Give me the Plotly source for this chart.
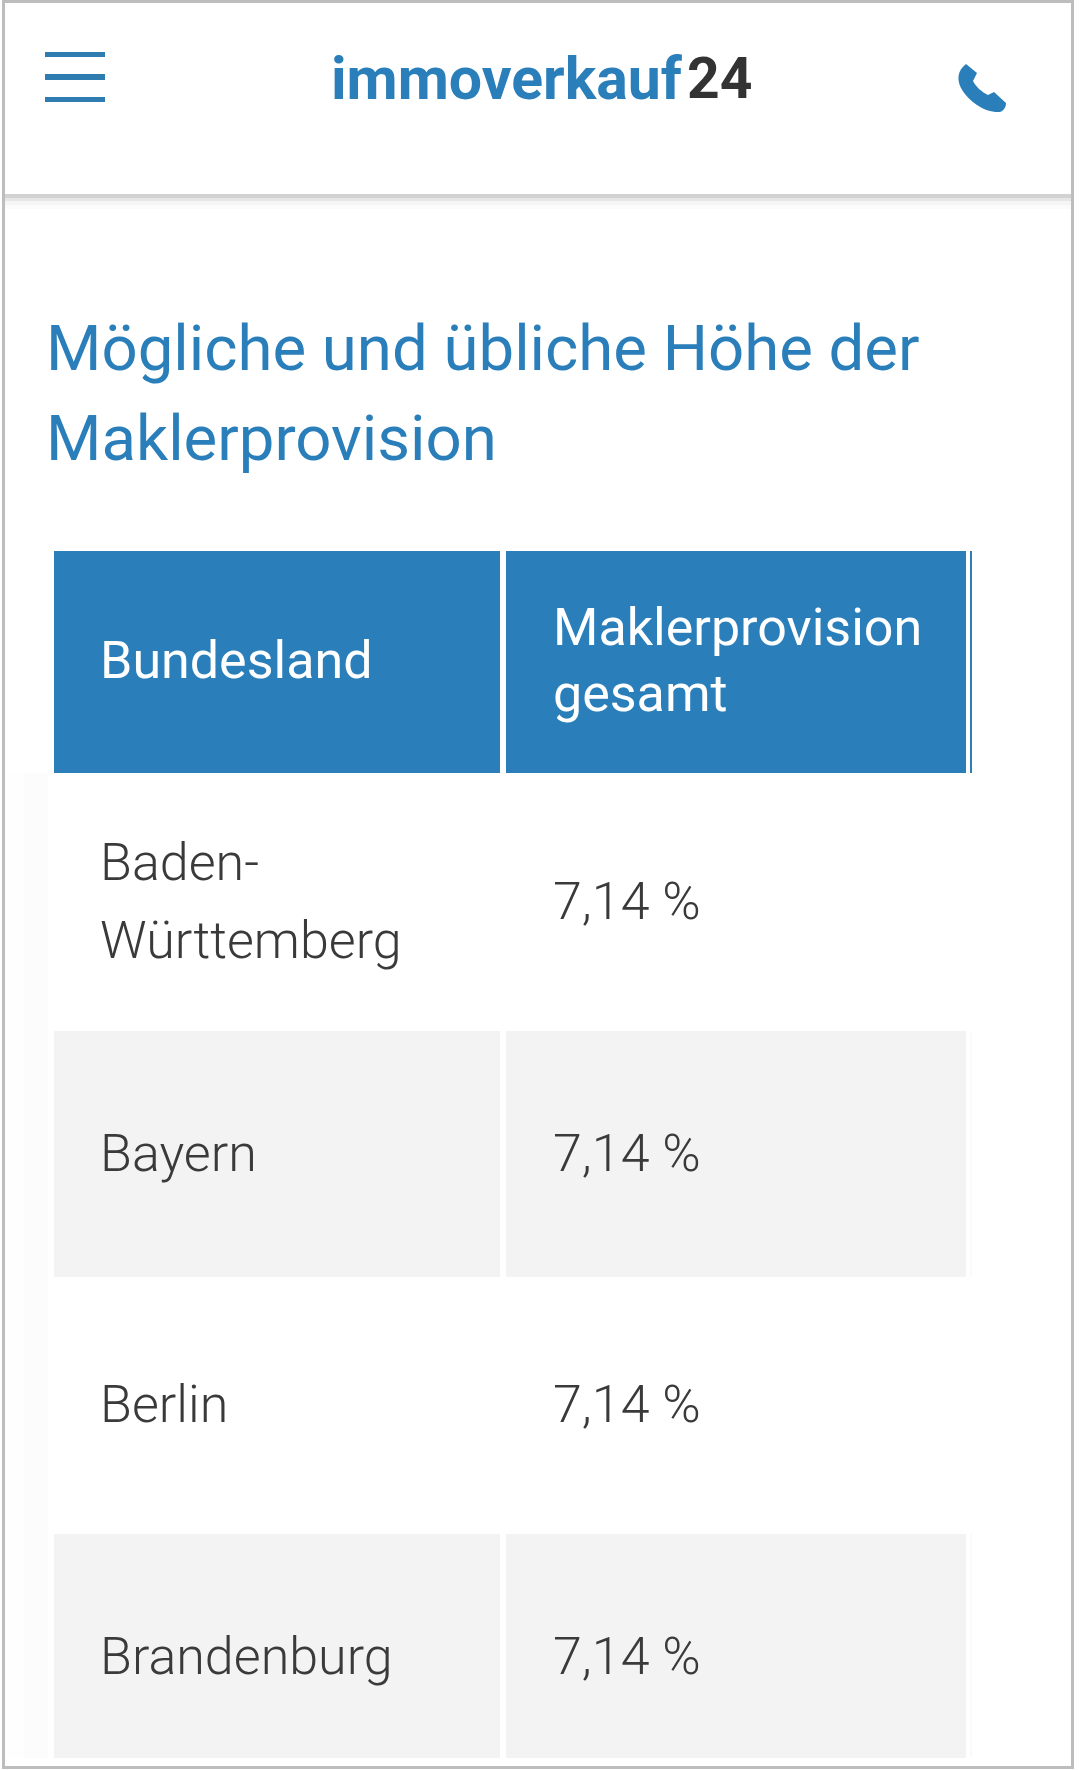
import plotly.graph_objects as go

# table content
spalten = [["Bundesland"], ["Maklerprovision", "gesamt"]]
bundeslaender = [["Baden-", "Württemberg"], ["Bayern"], ["Berlin"], ["Brandenburg"]]
provision_gesamt = [7.14, 7.14, 7.14, 7.14]

BLUE = "#2a7fba"
DARK = "#3a3a3a"
GREY_ROW = "#f3f3f3"
BORDER = "#bdbdbd"
FONT = "Roboto"

# geometry in page pixels
col_left = [54, 506]
col_width = [446, 460]
text_x = [100, 553]
header_top, header_bottom = 551, 773
row_edges = [773, 1031, 1277, 1534, 1758]
LINE_GAP = 78
HEADER_GAP = 66


def rect(x0, y0, x1, y1, color):
    return dict(type="rect", xref="x", yref="y", x0=x0, y0=y0, x1=x1, y1=y1,
                fillcolor=color, line_width=0, layer="below")


fig = go.Figure()

# header cells
fig.add_trace(go.Bar(y=[(header_top + header_bottom) / 2] * 3, x=col_width + [2], base=col_left + [970],
                     width=header_bottom - header_top, orientation="h",
                     marker=dict(color=BLUE, line_width=0), showlegend=False, hoverinfo="skip"))

# body cells, every second row is grey
for i, name in enumerate(bundeslaender):
    top, bottom = row_edges[i], row_edges[i + 1]
    color = GREY_ROW if i % 2 == 1 else "#ffffff"
    fig.add_trace(go.Bar(y=[(top + bottom) / 2] * 2, x=col_width, base=col_left, width=bottom - top,
                         orientation="h", marker=dict(color=color, line_width=0),
                         showlegend=False, hoverinfo="skip"))

# header text
for x, lines in zip(text_x, spalten):
    ys = [665 + (k - (len(lines) - 1) / 2) * HEADER_GAP for k in range(len(lines))]
    fig.add_trace(go.Scatter(x=[x] * len(lines), y=ys, text=lines, mode="text", textposition="middle right",
                             textfont=dict(family=FONT, size=52, color="#ffffff", weight=400),
                             showlegend=False, hoverinfo="skip"))

# body text
for i, (lines, wert) in enumerate(zip(bundeslaender, provision_gesamt)):
    mid = (row_edges[i] + row_edges[i + 1]) / 2 + 3.5 if i < 3 else 1661
    ys = [mid + (k - (len(lines) - 1) / 2) * LINE_GAP for k in range(len(lines))]
    fig.add_trace(go.Scatter(x=[text_x[0]] * len(lines) + [text_x[1]], y=ys + [mid],
                             text=lines + [f"{wert:.2f} %".replace(".", ",")],
                             mode="text", textposition="middle right",
                             textfont=dict(family=FONT, size=52, color=DARK, weight=300),
                             showlegend=False, hoverinfo="skip"))

shapes = [
    # top bar shadow
    rect(5, 194, 1071, 198, "#d2d2d2"),
    rect(5, 198, 1071, 201, "#e6e6e6"),
    rect(5, 201, 1071, 205, "#f5f5f5"),
    rect(5, 205, 1071, 209, "#fbfbfb"),
    # hamburger
    rect(45, 52, 105, 57, "#2e7cb0"),
    rect(45, 74, 105, 80, "#2e7cb0"),
    rect(45, 97, 105, 102, "#2e7cb0"),
    # faint shadow left of the table
    rect(5, 773, 24, 1758, "#fefefe"),
    rect(24, 773, 48, 1758, "#fcfcfc"),
    # cut off third column
    rect(970, 1031, 972, 1277, "#fafafa"),
    rect(970, 1534, 972, 1758, "#fafafa"),
    # phone
    dict(type="path", xref="x", yref="y", fillcolor=BLUE, line_width=0,
         path="M 966 64 L 977 73 L 973 81 C 976 87 982 92 988 95 L 994 92 L 1006 103 "
              "C 1006 108 1003 111 1000 112 C 985 113 969 102 961 88 C 957 80 957 71 966 64 Z"),
    # screenshot frame
    dict(type="rect", xref="x", yref="y", x0=3.5, y0=1.5, x1=1072.5, y1=1767.5,
         line=dict(color=BORDER, width=3)),
]

annotations = [
    dict(x=329, y=78, text="immoverkauf", font=dict(family=FONT, size=59, color=BLUE, weight=700)),
    dict(x=685, y=78, text="24", font=dict(family=FONT, size=57, color="#333333", weight=700)),
    dict(x=44, y=348, text="Mögliche und übliche Höhe der", font=dict(family=FONT, size=63.5, color=BLUE)),
    dict(x=44, y=438, text="Maklerprovision", font=dict(family=FONT, size=63.5, color=BLUE)),
]
for a in annotations:
    a.update(xref="x", yref="y", xanchor="left", yanchor="middle", showarrow=False)

fig.update_layout(
    width=1080, height=1770, margin=dict(l=0, r=0, t=0, b=0),
    paper_bgcolor="#ffffff", plot_bgcolor="#ffffff", barmode="overlay",
    xaxis=dict(range=[0, 1080], visible=False, fixedrange=True),
    yaxis=dict(range=[1770, 0], visible=False, fixedrange=True),
    shapes=shapes, annotations=annotations,
)

# page default body margin would push the figure 8px off
fig.write_html("out.html", config=dict(displayModeBar=False), post_script="document.body.style.margin='0';")
